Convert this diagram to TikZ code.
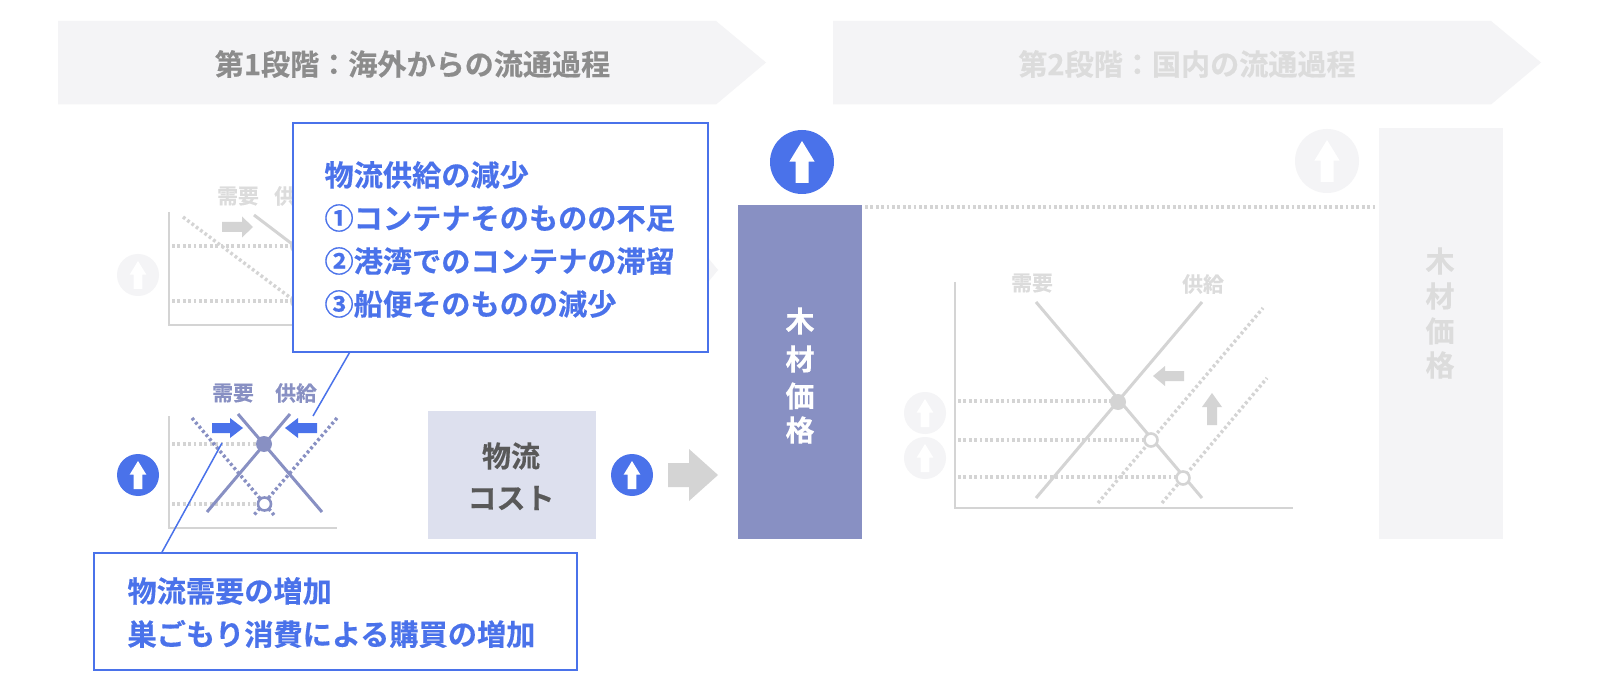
\documentclass[tikz,border=0pt]{standalone}
\usepackage{fontspec}
\setmainfont{Noto Sans CJK JP}[BoldFont={Noto Sans CJK JP Bold},BoldFeatures={FakeBold=0.4}]
\definecolor{blueA}{HTML}{4A72EA}
\definecolor{navy}{HTML}{8890C3}
\definecolor{paleG}{HTML}{F4F4F6}
\definecolor{lineG}{HTML}{D4D4D4}
\definecolor{fadeT}{HTML}{DCDCDC}
\definecolor{lilac}{HTML}{DDE0EE}
\newcommand{\uparrowat}[2]{% node name, scale
  \fill[white,shift={(#1.center)},scale=#2] (0,-1) -- (.6,-.02) -- (.31,-.02) -- (.31,1) -- (-.31,1) -- (-.31,-.02) -- (-.6,-.02) -- cycle;}
\tikzset{
  x=1pt,y=-1pt,
  every node/.style={font=\bfseries,inner sep=0pt,outer sep=0pt},
  band/.style={fill=paleG,draw=none},
  calloutbox/.style={draw=blueA,line width=1.8pt,fill=white},
  leader/.style={draw=blueA,line width=1.5pt},
  axisline/.style={draw=lineG,line width=1.6pt},
  dotline/.style={line width=3.4pt,dash pattern=on 2.8pt off 2.6pt},
  hdot/.style={dotline,draw=lineG},
  solidline/.style={line width=3pt},
  badge/.style={circle,minimum size=42pt,fill=blueA},
  bigbadge/.style={circle,minimum size=64pt,fill=blueA},
  faded/.style={fill=paleG},
  opendot/.style={circle,minimum size=13pt,fill=white,line width=2.6pt},
  fulldot/.style={circle,minimum size=16pt},
  smalllabel/.style={font=\bfseries\fontsize{20.8}{21}\selectfont},
  boxtext/.style={font=\bfseries\fontsize{29.2}{29}\selectfont,text=blueA,anchor=west},
  headtext/.style={font=\bfseries\fontsize{29.1}{29}\selectfont},
  bartext/.style={font=\bfseries\fontsize{29}{29}\selectfont},
}
\begin{document}
\begin{tikzpicture}
\useasboundingbox (0,0) rectangle (1600,692);
\fill[white] (0,0) rectangle (1600,692);
% headers
\fill[band] (58,21) -- (716,21) -- (766,62.5) -- (716,104.5) -- (58,104.5) -- cycle;
\fill[band] (833,21) -- (1491,21) -- (1541,62.5) -- (1491,104.5) -- (833,104.5) -- cycle;
\node[headtext,text=black!45] (h1) at (412.5,64) {第1段階：海外からの流通過程};
\node[headtext,text=fadeT] (h2) at (1187,64) {第2段階：国内の流通過程};
% faded upper chart
\draw[axisline] (169,212) |- (292,325);
\draw[hdot] (172,246) -- (292,246);
\draw[hdot] (172,301) -- (292,301);
\draw[hdot] (183,217) -- (292,299);
\draw[lineG,solidline] (254,215) -- (300,250);
\fill[lineG] (222,222) -- (242,222) -- (242,216.5) -- (253,227) -- (242,237.5) -- (242,232) -- (222,232) -- cycle;
\node[smalllabel,text=fadeT] (u1) at (238,196) {需要};
\node[smalllabel,text=fadeT] (u2) at (295,196) {供給};
\node[fulldot,fill=lineG] (u3) at (298,246) {};
\node[fulldot,fill=lineG] (u4) at (298,301) {};
\node[badge,faded] (ub) at (138,275) {};
\uparrowat{ub}{14}
\fill[paleG] (709,259) -- (718,270) -- (709,281) -- cycle;
% lower chart
\draw[axisline] (169,416) |- (337,528);
\draw[hdot] (172,444) -- (258,444);
\draw[hdot] (172,504) -- (258,504);
\draw[navy,dotline] (192,418) -- (274,515);
\draw[navy,dotline] (337,418) -- (254,515);
\draw[navy,solidline] (238,414) -- (322,512);
\draw[navy,solidline] (290,414) -- (207,512);
\node[fulldot,fill=navy] (ld) at (264,444) {};
\node[opendot,draw=navy] (lo) at (264.5,504) {};
\fill[blueA] (212,423) -- (230,423) -- (230,418) -- (243,428) -- (230,438) -- (230,433) -- (212,433) -- cycle;
\fill[blueA] (317,423) -- (298,423) -- (298,418) -- (285,428) -- (298,438) -- (298,433) -- (317,433) -- cycle;
\node[smalllabel,text=navy] (l1) at (233,393) {需要};
\node[smalllabel,text=navy] (l2) at (296,393) {供給};
\node[badge] (lb) at (138,475) {};
\uparrowat{lb}{14}
% callouts
\node[calloutbox,anchor=north west,minimum width=415.5pt,minimum height=229pt] (ca) at (292.7,123.3) {};
\node[calloutbox,anchor=north west,minimum width=483pt,minimum height=117pt] (cb) at (93.7,552.7) {};
\coordinate (caEnd) at (313,416);
\coordinate (cbEnd) at (222,443);
\draw[leader] (ca.south west) ++(57,0) -- (caEnd);
\draw[leader] (cb.north west) ++(68,0) -- (cbEnd);
\node[boxtext] (t1) at (324.5,175) {物流供給の減少};
\node[boxtext] (t2) at (324.5,218) {①コンテナそのものの不足};
\node[boxtext] (t3) at (324.5,261) {②港湾でのコンテナの滞留};
\node[boxtext] (t4) at (324.5,304) {③船便そのものの減少};
\node[boxtext] (t5) at (127.5,591) {物流需要の増加};
\node[boxtext] (t6) at (127.5,634) {巣ごもり消費による購買の増加};
% logistics cost
\fill[lilac] (427.5,411) rectangle (596,538.5);
\node[bartext,text=black!65] (c1) at (511,456) {物流};
\node[bartext,text=black!65] (c2) at (511,498) {コスト};
\node[badge] (cbd) at (632,475) {};
\uparrowat{cbd}{14}
\fill[lineG] (668,463) -- (689,463) -- (689,449) -- (718,475) -- (689,501) -- (689,487) -- (668,487) -- cycle;
% main bar
\fill[navy] (738,205) rectangle (862,538.5);
\node[bartext,text=white] (m1) at (800,321) {木};
\node[bartext,text=white] (m2) at (800,359) {材};
\node[bartext,text=white] (m3) at (800,396) {価};
\node[bartext,text=white] (m4) at (800,430) {格};
\node[bigbadge] (mb) at (802,162) {};
\uparrowat{mb}{21}
\coordinate (dotEnd) at (1376,207);
\coordinate (dotStart) at (865,207);
\draw[hdot] (dotStart) -- (dotEnd);
% right column
\fill[paleG] (1379,128) rectangle (1503,538.5);
\node[bartext,text=fadeT] (r1) at (1440,261) {木};
\node[bartext,text=fadeT] (r2) at (1440,296) {材};
\node[bartext,text=fadeT] (r3) at (1440,331) {価};
\node[bartext,text=fadeT] (r4) at (1440,365) {格};
\node[bigbadge,faded] (rb) at (1327,161) {};
\uparrowat{rb}{21}
% right chart
\draw[axisline] (955,282) |- (1293,508);
\draw[hdot] (958,401) -- (1112,401);
\draw[hdot] (958,440) -- (1146,440);
\draw[hdot] (958,477) -- (1178,477);
\draw[hdot] (1098,503) -- (1263,308);
\draw[hdot] (1162,503) -- (1267,378);
\draw[lineG,solidline] (1036,302) -- (1202,498);
\draw[lineG,solidline] (1202,302) -- (1036,498);
\node[fulldot,fill=lineG] (rd) at (1118,402) {};
\node[opendot,draw=lineG] (ro1) at (1151,440) {};
\node[opendot,draw=lineG] (ro2) at (1183,478) {};
\fill[lineG] (1184,371) -- (1165,371) -- (1165,366) -- (1153,376) -- (1165,386) -- (1165,381) -- (1184,381) -- cycle;
\fill[lineG] (1207,425) -- (1207,407) -- (1202,407) -- (1212,393) -- (1222,407) -- (1217,407) -- (1217,425) -- cycle;
\node[smalllabel,text=fadeT] (rl1) at (1032,283) {需要};
\node[smalllabel,text=fadeT] (rl2) at (1203,284) {供給};
\node[badge,faded] (rb1) at (925,413) {};
\uparrowat{rb1}{14}
\node[badge,faded] (rb2) at (925,458) {};
\uparrowat{rb2}{14}
\end{tikzpicture}
\end{document}
